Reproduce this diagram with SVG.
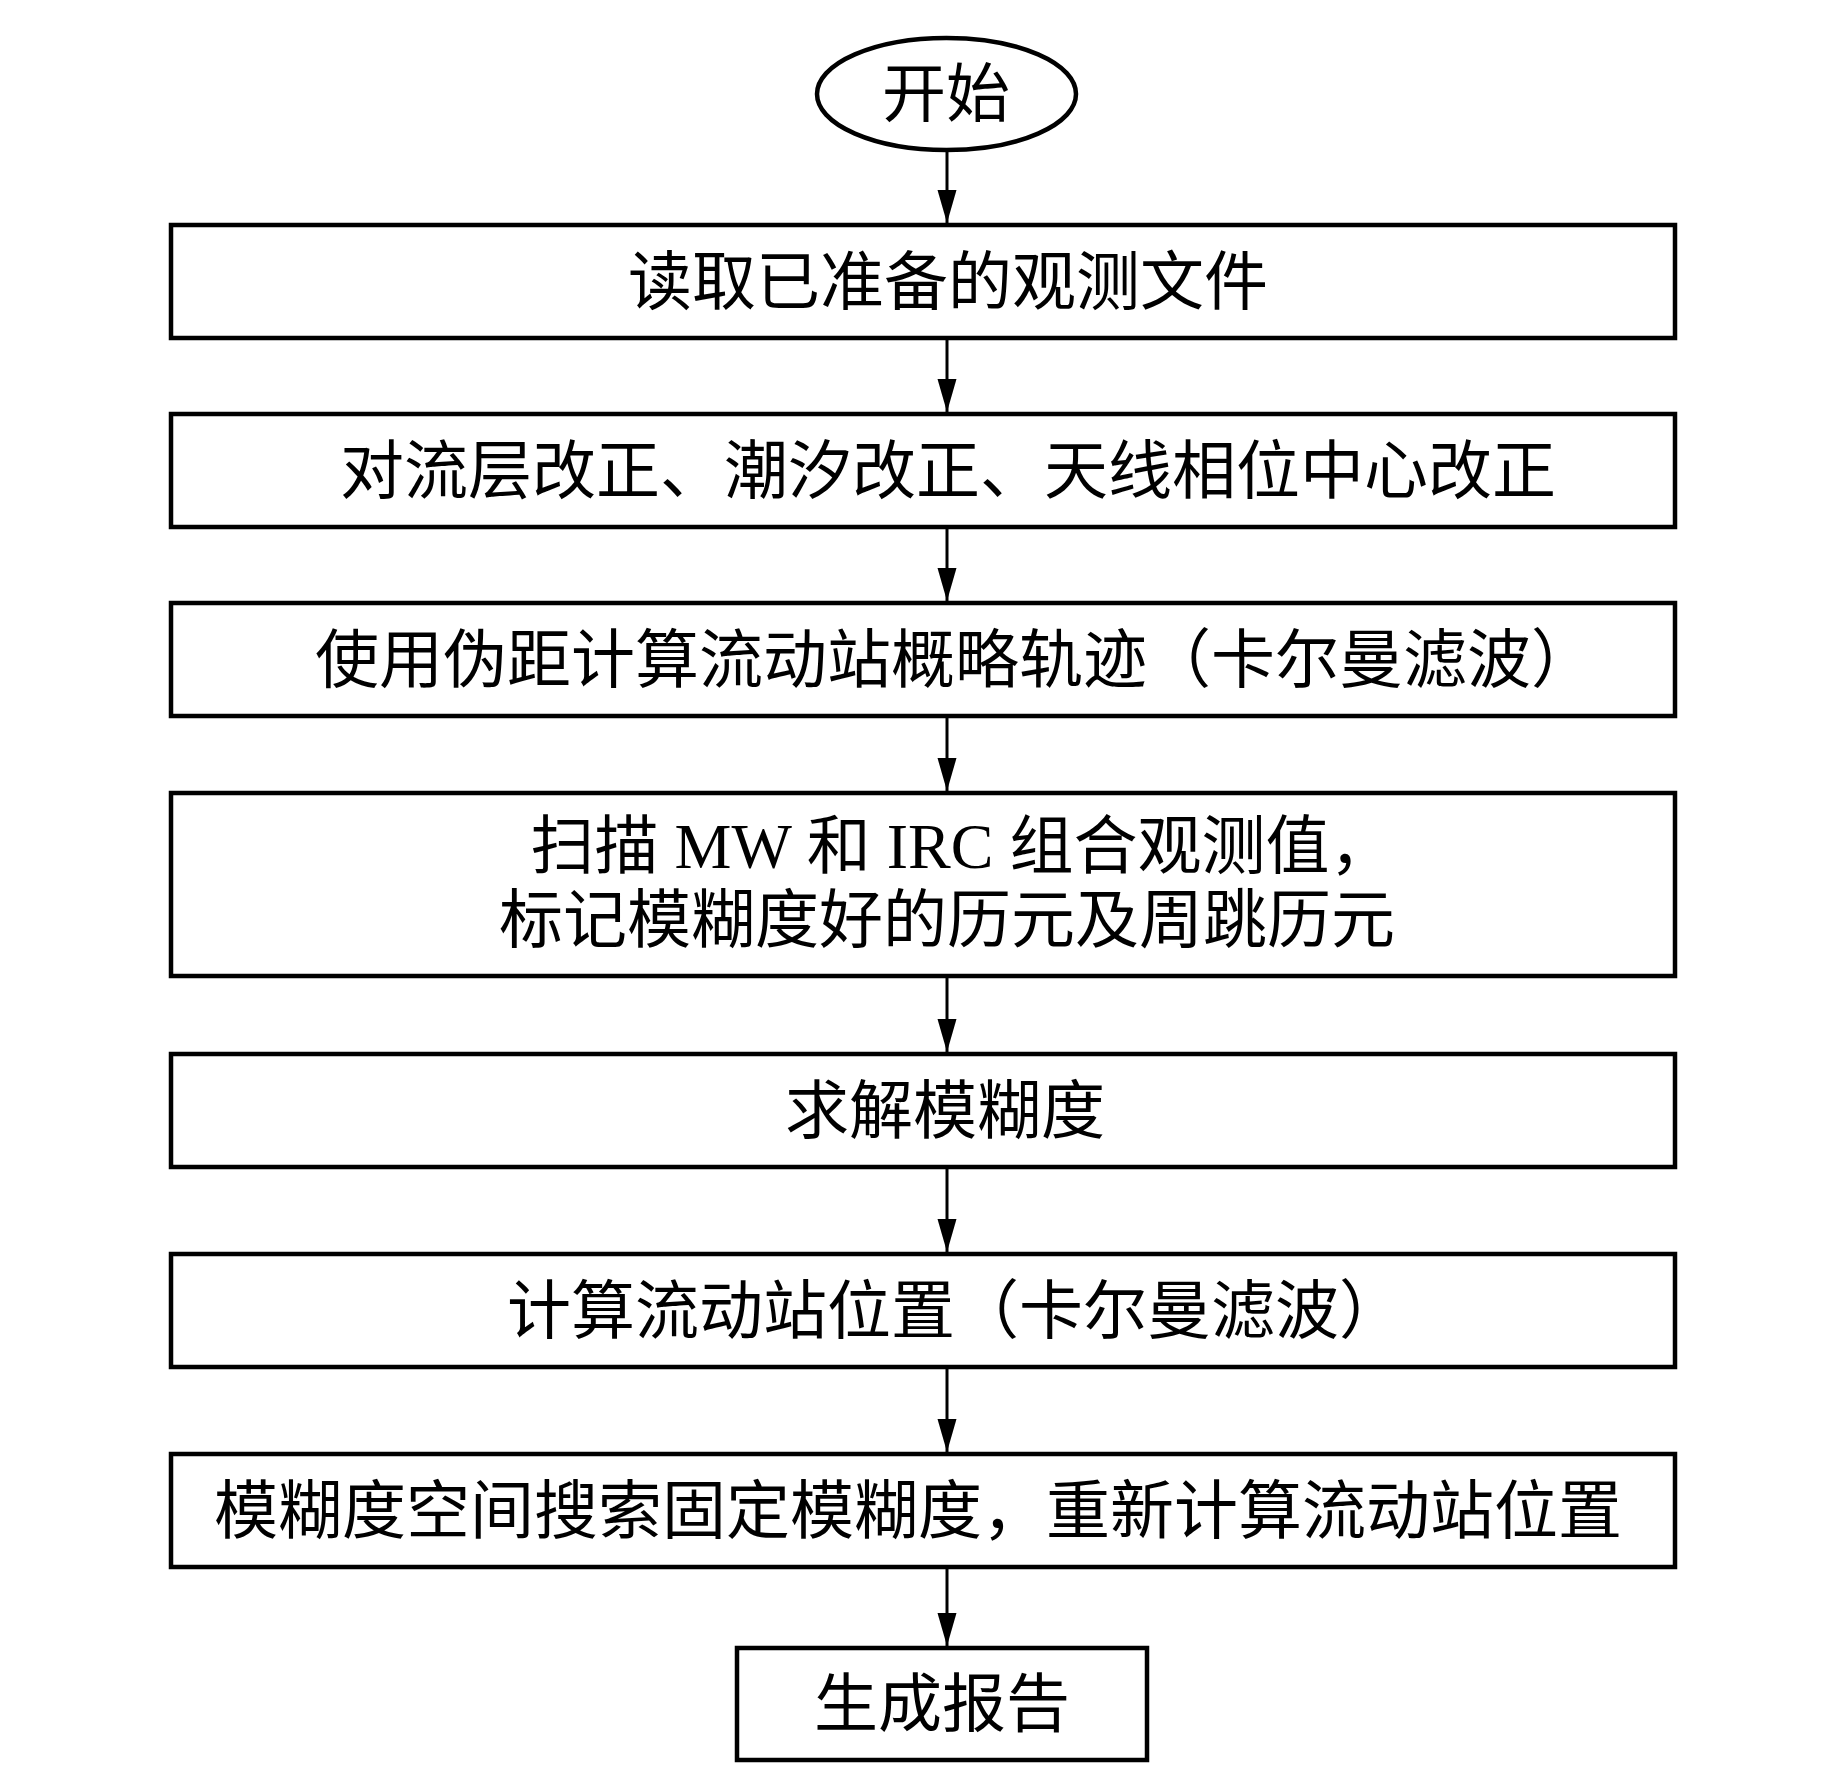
<svg xmlns="http://www.w3.org/2000/svg" width="1843" height="1772" viewBox="0 0 1843 1772">
<style>
.box{fill:#fff;stroke:#000;stroke-width:4.5}
.t{font-family:"Liberation Serif","Noto Sans CJK SC",serif;font-size:64px;fill:#000;text-anchor:middle;dominant-baseline:central}
.c{stroke:#000;stroke-width:3;fill:none}
</style>
<defs>
<marker id="ah" markerUnits="userSpaceOnUse" markerWidth="34" markerHeight="20" refX="33" refY="10" orient="auto" viewBox="0 0 34 20">
<path d="M0,0.5 L33,10 L0,19.5 Z" fill="#000"/>
</marker>
</defs>
<rect width="1843" height="1772" fill="#fff"/>
<g id="connectors">
<line class="c" x1="947" y1="150" x2="947" y2="223" marker-end="url(#ah)"/>
<line class="c" x1="947" y1="340" x2="947" y2="412" marker-end="url(#ah)"/>
<line class="c" x1="947" y1="529" x2="947" y2="601" marker-end="url(#ah)"/>
<line class="c" x1="947" y1="718" x2="947" y2="791" marker-end="url(#ah)"/>
<line class="c" x1="947" y1="978" x2="947" y2="1052" marker-end="url(#ah)"/>
<line class="c" x1="947" y1="1169" x2="947" y2="1252" marker-end="url(#ah)"/>
<line class="c" x1="947" y1="1369" x2="947" y2="1452" marker-end="url(#ah)"/>
<line class="c" x1="947" y1="1569" x2="947" y2="1646" marker-end="url(#ah)"/>
</g>
<g id="start">
<ellipse cx="946.5" cy="94" rx="129.5" ry="56" class="box"/>
<text class="t" x="946" y="94">开始</text>
</g>
<g id="n1">
<rect class="box" x="171" y="225" width="1504" height="113"/>
<text class="t" x="948" y="282">读取已准备的观测文件</text>
</g>
<g id="n2">
<rect class="box" x="171" y="414" width="1504" height="113"/>
<text class="t" x="948" y="471">对流层改正、潮汐改正、天线相位中心改正</text>
</g>
<g id="n3">
<rect class="box" x="171" y="603" width="1504" height="113"/>
<text class="t" x="955" y="660">使用伪距计算流动站概略轨迹（卡尔曼滤波）</text>
</g>
<g id="n4">
<rect class="box" x="171" y="793" width="1504" height="183"/>
<text class="t" x="962" y="846">扫描 MW 和 IRC 组合观测值，</text>
<text class="t" x="947" y="920">标记模糊度好的历元及周跳历元</text>
</g>
<g id="n5">
<rect class="box" x="171" y="1054" width="1504" height="113"/>
<text class="t" x="945" y="1111">求解模糊度</text>
</g>
<g id="n6">
<rect class="box" x="171" y="1254" width="1504" height="113"/>
<text class="t" x="955" y="1311">计算流动站位置（卡尔曼滤波）</text>
</g>
<g id="n7">
<rect class="box" x="171" y="1454" width="1504" height="113"/>
<text class="t" x="918" y="1511">模糊度空间搜索固定模糊度，重新计算流动站位置</text>
</g>
<g id="end">
<rect class="box" x="737" y="1648" width="410" height="112"/>
<text class="t" x="942" y="1704">生成报告</text>
</g>
</svg>
